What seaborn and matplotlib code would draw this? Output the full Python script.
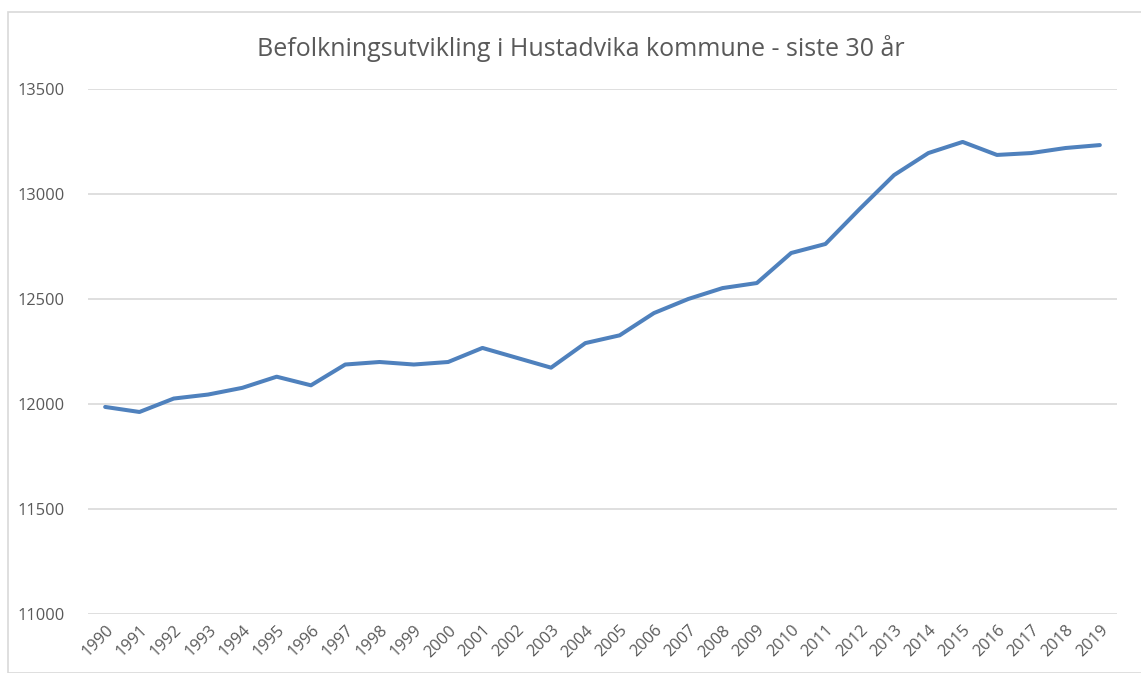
import numpy as np
import pandas as pd
import seaborn as sns
import matplotlib.pyplot as plt
from matplotlib.patches import Rectangle

# Data
years = [str(y) for y in range(1990, 2020)]
population = [11986, 11962, 12026, 12045, 12077, 12130, 12089, 12188, 12200, 12188,
              12200, 12267, 12220, 12173, 12290, 12327, 12433, 12500, 12552, 12576,
              12719, 12762, 12929, 13090, 13195, 13248, 13186, 13195, 13219, 13233]
y_ticks = [11000, 11500, 12000, 12500, 13000, 13500]
title = 'Befolkningsutvikling i Hustadvika kommune - siste 30 år'

df = pd.DataFrame({'year': years, 'pop': population})
df['pos'] = np.arange(len(df))

sns.set_theme(style='white')
plt.rcParams['font.family'] = ['Open Sans', 'DejaVu Sans']

fig = plt.figure(figsize=(11.41, 6.73), dpi=100)
ax = fig.add_axes([88 / 1141, 1 - 614 / 673, (1117 - 88) / 1141, (614 - 89) / 673])

sns.lineplot(data=df, x='pos', y='pop', ax=ax, color='#4F81BD', linewidth=2.9)

ax.set_xlim(-0.5, len(years) - 0.5)
ax.set_ylim(11000, 13500)
ax.set_yticks(y_ticks)
ax.set_yticklabels([str(v) for v in y_ticks])
ax.set_xticks(df['pos'])
ax.set_xticklabels(years, rotation=45, ha='right', rotation_mode='anchor')
ax.tick_params(axis='both', length=0, labelsize=11.8, labelcolor='#595959')
ax.tick_params(axis='y', pad=17)
ax.tick_params(axis='x', pad=6)
ax.grid(axis='y', color='#d9d9d9', linewidth=1.2)
ax.set_axisbelow(True)
for s in ax.spines.values():
    s.set_visible(False)
ax.set_xlabel('')
ax.set_ylabel('')

fig.text(581 / 1141, 1 - 48 / 673, title, ha='center', va='center', fontsize=18, color='#595959')

# chart border
fig.patches.append(Rectangle((8 / 1141, 0), 1.1, 1 - 12 / 673, transform=fig.transFigure,
                             fill=False, edgecolor='#d9d9d9', linewidth=1.2))

fig.savefig('out.png', dpi=100)
